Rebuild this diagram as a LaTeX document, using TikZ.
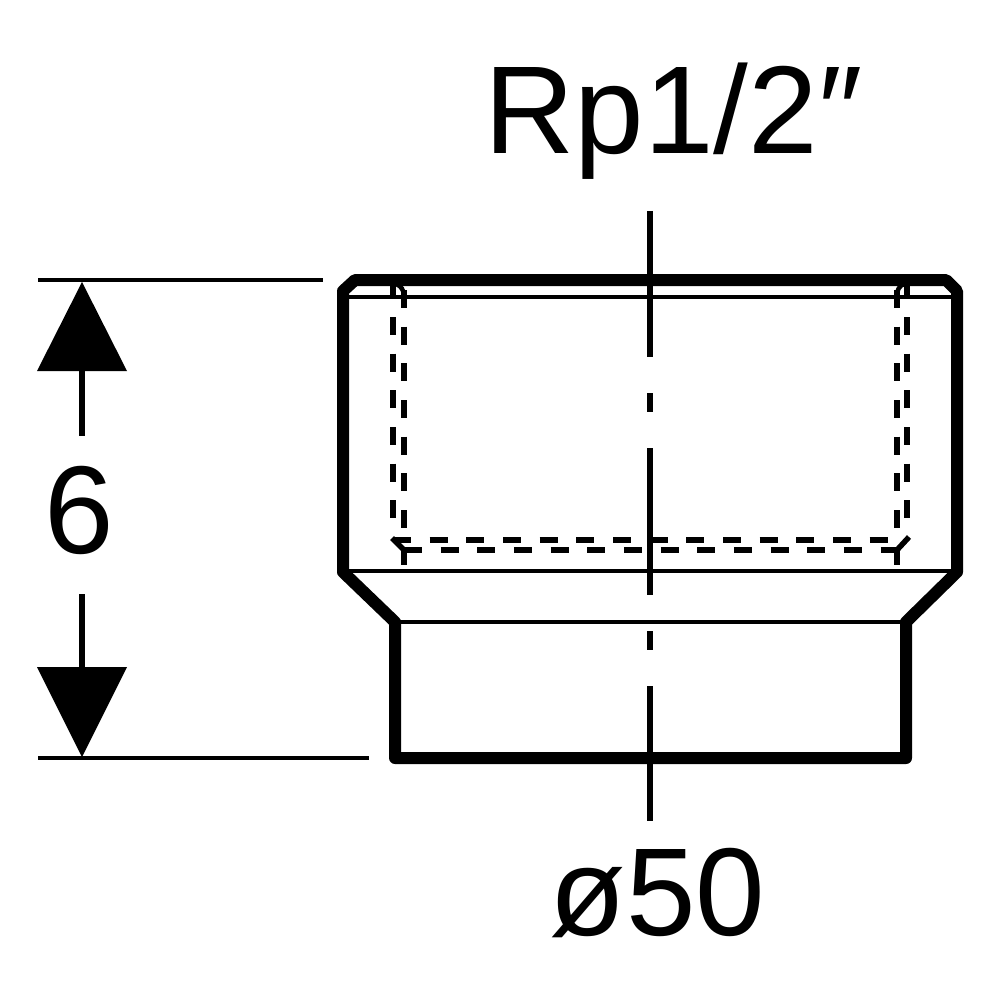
\documentclass[tikz,border=0pt]{standalone}
\usepackage{fontspec}
\setmainfont{Liberation Sans}
\tikzset{
  thick outline/.style={line width=12pt,line join=round,line cap=round},
  thin edge/.style={line width=4pt},
  centre line/.style={line width=6pt},
  hidden/.style={line width=5.5pt},
  hidden dash/.style={hidden,dash pattern=on 18pt off 18.67pt},
  dim line/.style={line width=4pt},
  dim shaft/.style={line width=5.5pt},
  tip/.style={fill=black,draw=none},
  lab/.style={inner sep=0pt,font=\fontsize{125}{125}\selectfont}
}
\begin{document}
\begin{tikzpicture}[x=1pt,y=-1pt]
\useasboundingbox (0,0) rectangle (1000,1000);
% outline
\draw[thick outline] (343,572) -- (343,291) -- (355,280) -- (946,280) -- (957,291) -- (957,572) -- (906,622) -- (906,758) -- (395,758) -- (395,622) -- cycle;
% thin edges
\draw[thin edge] (347,297) -- (953,297);
\draw[thin edge] (347,570.5) -- (953,570.5);
\draw[thin edge] (398,621.5) -- (903,621.5);
% hidden lines
\draw[hidden] (393,285) -- (393,297);
\draw[hidden dash] (393,317) -- (393,520);
\draw[hidden,line width=4.5pt] (396,284) .. controls (401,286) and (404,290) .. (404,296);
\draw[hidden dash] (404,290) -- (404,530);
\draw[hidden] (404,547) -- (404,565);
\draw[hidden] (907,285) -- (907,297);
\draw[hidden dash] (907,317) -- (907,520);
\draw[hidden,line width=4.5pt] (904,284) .. controls (899,286) and (897,290) .. (897,296);
\draw[hidden dash] (897,290) -- (897,530);
\draw[hidden] (897,547) -- (897,565);
\draw[hidden dash] (393,540) -- (890,540);
\draw[hidden dash] (404,550) -- (898,550);
\draw[hidden] (392,538) -- (404,550);
\draw[hidden] (909,537) -- (897,550);
% centre line
\draw[centre line] (650,211) -- (650,357);
\draw[centre line] (650,393) -- (650,412);
\draw[centre line] (650,448) -- (650,595);
\draw[centre line] (650,631) -- (650,650);
\draw[centre line] (650,686) -- (650,821);
% dimension
\coordinate (dimTopA) at (38,280);
\coordinate (dimTopB) at (323,280);
\coordinate (dimBotA) at (38,758);
\coordinate (dimBotB) at (369,758);
\draw[dim line] (dimTopA) -- (dimTopB);
\draw[dim line] (dimBotA) -- (dimBotB);
\coordinate (upBase) at (82,371);
\coordinate (upEnd) at (82,436);
\coordinate (downBase) at (82,667);
\coordinate (downEnd) at (82,594);
\draw[dim shaft] (upBase) -- (upEnd);
\draw[dim shaft] (downBase) -- (downEnd);
\fill[tip] (82,282) -- (127,371) -- (37,371) -- cycle;
\fill[tip] (82,757) -- (127,667) -- (37,667) -- cycle;
% labels
\node[lab,anchor=base] (top) at (673.5,153.5) {Rp1/2\char"2033};
\node[lab,anchor=base] (six) at (79,553.5) {6};
\node[lab,anchor=base] (dia) at (657.5,935.5) {ø50};
\end{tikzpicture}
\end{document}
